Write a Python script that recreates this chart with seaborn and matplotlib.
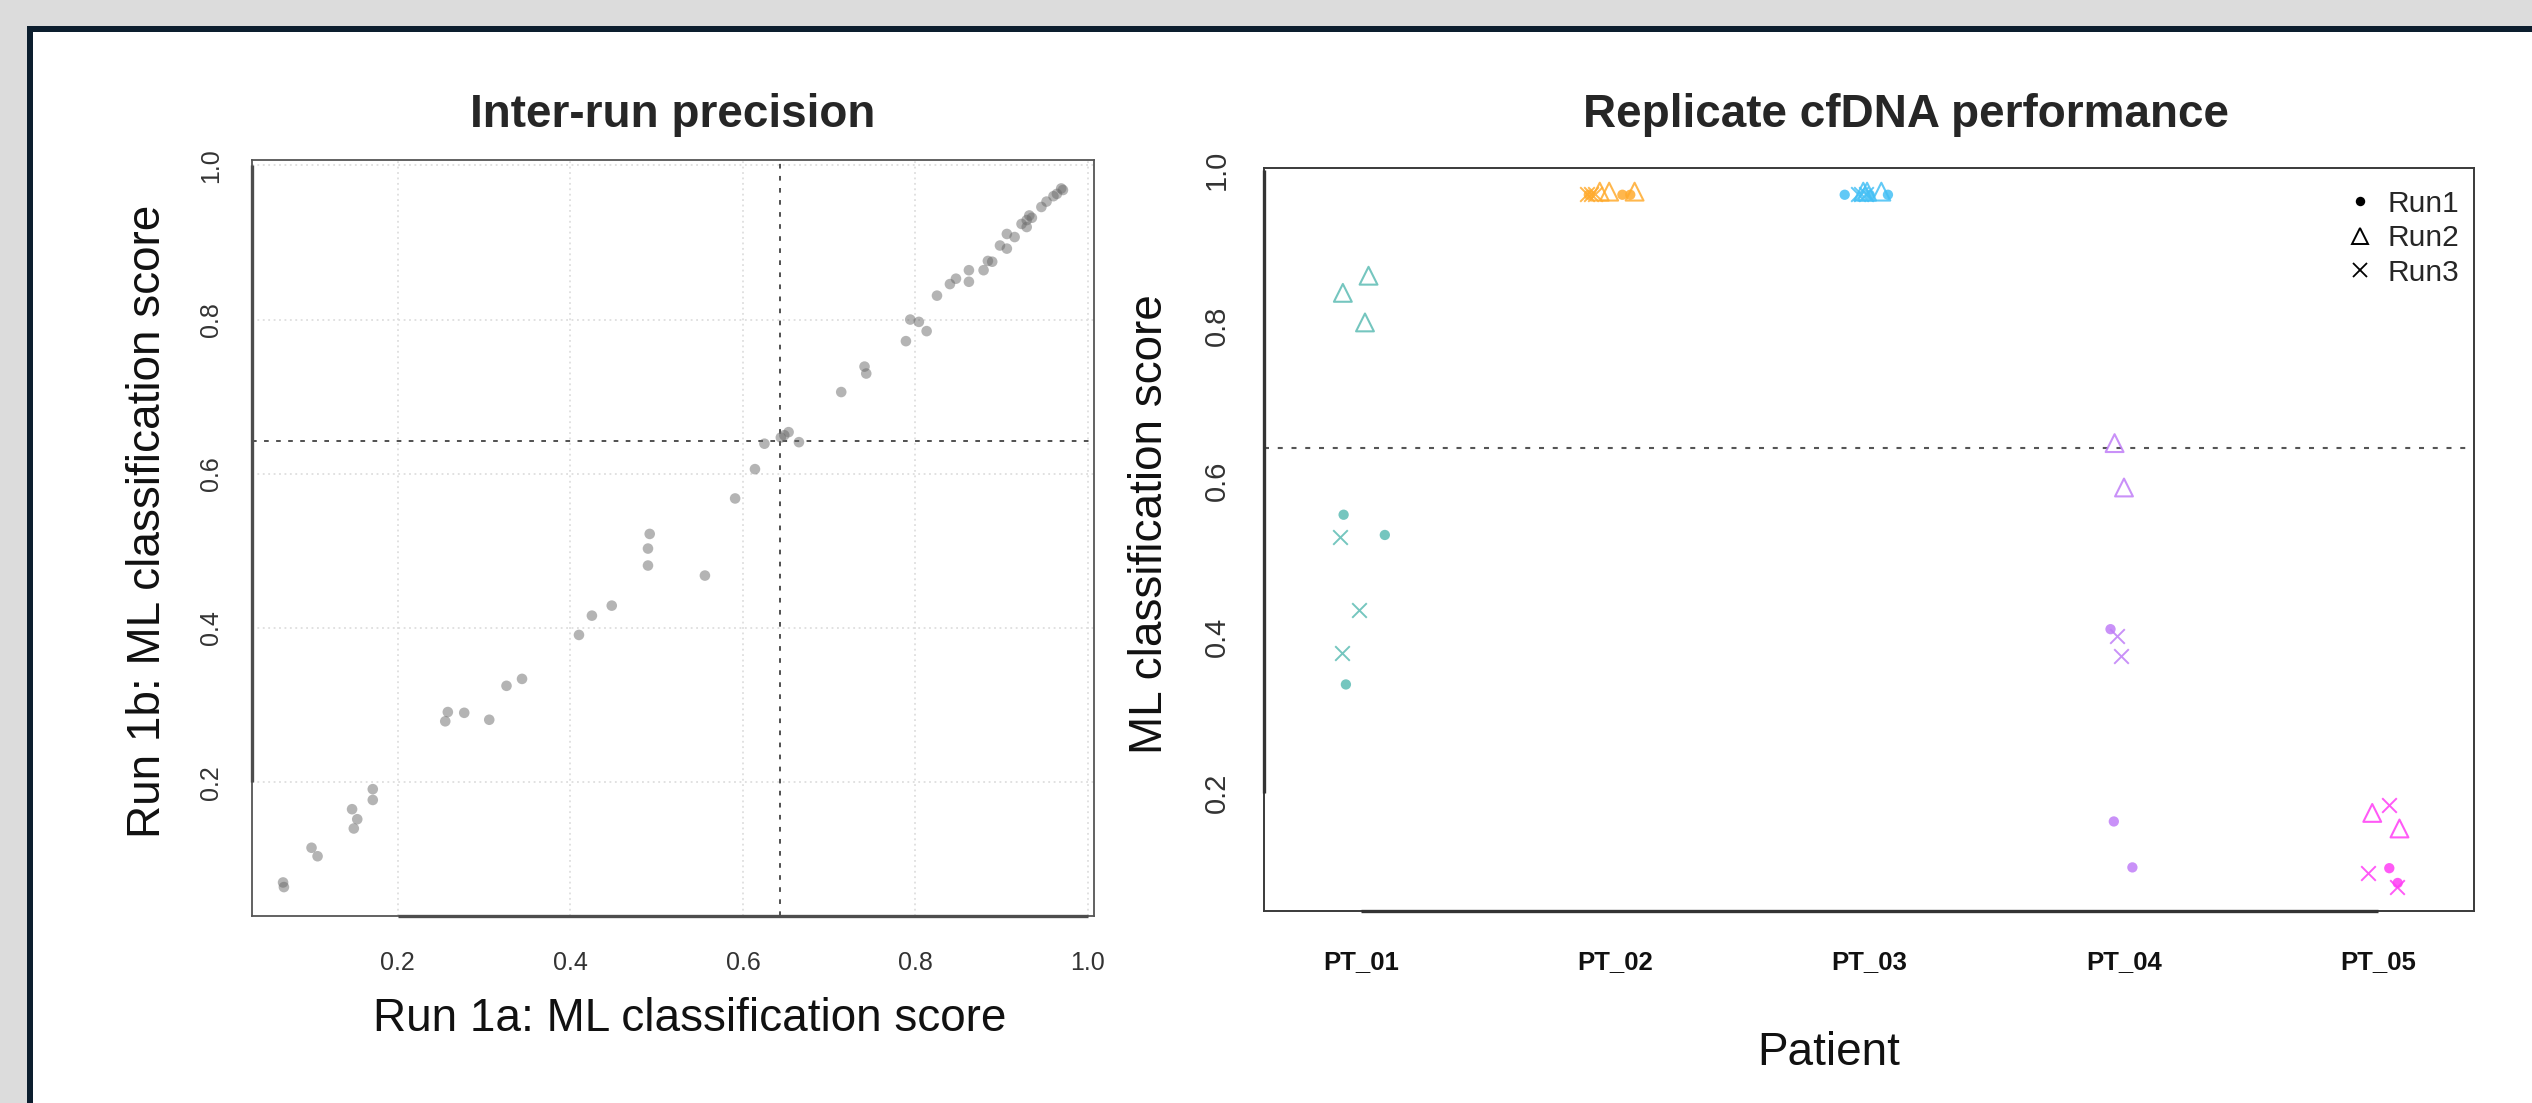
import numpy as np
import pandas as pd
import matplotlib
matplotlib.use("Agg")
import matplotlib.pyplot as plt
import seaborn as sns
from matplotlib.markers import MarkerStyle
from matplotlib.lines import Line2D
from matplotlib.patches import Rectangle

# ---------------- data ----------------
# Left panel: inter-run precision (Run 1a vs Run 1b)
run1a = [0.067, 0.068, 0.100, 0.107, 0.147, 0.149, 0.153, 0.171, 0.171,
         0.255, 0.258, 0.277, 0.306, 0.326, 0.344, 0.410, 0.425, 0.448,
         0.492, 0.490, 0.490, 0.556, 0.591, 0.614, 0.625, 0.644, 0.653,
         0.648, 0.665, 0.714, 0.741, 0.743, 0.789, 0.794, 0.804, 0.813,
         0.825, 0.840, 0.847, 0.862, 0.862, 0.879, 0.884, 0.889, 0.898,
         0.906, 0.906, 0.915, 0.923, 0.929, 0.935, 0.929, 0.932, 0.946,
         0.952, 0.964, 0.969, 0.971, 0.960]
run1b = [0.070, 0.064, 0.115, 0.104, 0.165, 0.140, 0.152, 0.191, 0.177,
         0.279, 0.291, 0.290, 0.281, 0.325, 0.334, 0.391, 0.416, 0.429,
         0.522, 0.503, 0.481, 0.468, 0.568, 0.606, 0.639, 0.647, 0.654,
         0.650, 0.641, 0.706, 0.739, 0.730, 0.772, 0.800, 0.797, 0.785,
         0.831, 0.846, 0.853, 0.849, 0.864, 0.864, 0.876, 0.875, 0.896,
         0.892, 0.911, 0.907, 0.924, 0.929, 0.932, 0.920, 0.935, 0.946,
         0.953, 0.963, 0.970, 0.968, 0.960]
threshold = 0.643
score_ticks = [0.2, 0.4, 0.6, 0.8, 1.0]

# Right panel: replicate cfDNA performance
patients = ["PT_01", "PT_02", "PT_03", "PT_04", "PT_05"]
patient_colors = ["#5dbcb4", "#ffab2e", "#45c0f5", "#c07ef7", "#ff3df5"]
runs = ["Run1", "Run2", "Run3"]

rep_patient = (["PT_01"] * 9 + ["PT_02"] * 9 + ["PT_03"] * 9 +
               ["PT_04"] * 7 + ["PT_05"] * 7)
rep_run = (["Run1"] * 3 + ["Run2"] * 3 + ["Run3"] * 3 +
           ["Run1"] * 3 + ["Run2"] * 3 + ["Run3"] * 3 +
           ["Run1"] * 3 + ["Run2"] * 3 + ["Run3"] * 3 +
           ["Run1"] * 3 + ["Run2"] * 2 + ["Run3"] * 2 +
           ["Run1"] * 2 + ["Run2"] * 2 + ["Run3"] * 3)
# jittered horizontal position (patient index + jitter)
rep_pos = [0.932, 1.094, 0.941, 0.929, 1.030, 1.016, 0.916, 0.992, 0.925,
           1.896, 2.028, 2.059, 1.939, 1.976, 2.076, 1.889, 1.905, 1.919,
           2.902, 3.000, 3.072, 2.975, 2.990, 3.046, 2.955, 2.965, 2.985,
           3.947, 3.960, 4.033, 3.963, 4.000, 3.974, 3.990,
           5.043, 5.076, 4.976, 5.083, 5.043, 4.959, 5.072]
rep_score = [0.557, 0.531, 0.339, 0.842, 0.864, 0.804, 0.528, 0.435, 0.380,
             0.968, 0.968, 0.968, 0.972, 0.972, 0.972, 0.969, 0.969, 0.969,
             0.968, 0.968, 0.968, 0.972, 0.972, 0.972, 0.969, 0.969, 0.969,
             0.410, 0.163, 0.104, 0.649, 0.592, 0.401, 0.376,
             0.103, 0.084, 0.174, 0.154, 0.184, 0.097, 0.079]

# ---------------- figure ----------------
W, H = 2532, 1103
sns.set_theme(style="white")
plt.rcParams["font.family"] = ["Liberation Sans", "DejaVu Sans"]

fig = plt.figure(figsize=(W / 100, H / 100), dpi=100, facecolor="#dcdcdc")

# framed white panel
fig.add_artist(Rectangle((27.3 / W, -0.05), 1.2, (H - 26) / H + 0.05,
                         transform=fig.transFigure, facecolor="#0c1e2e",
                         edgecolor="none", zorder=-20))
fig.add_artist(Rectangle((33.3 / W, -0.05), 1.2, (H - 32) / H + 0.05,
                         transform=fig.transFigure, facecolor="white",
                         edgecolor="none", zorder=-19))


def px_axes(l, t, r, b):
    return [l / W, 1 - b / H, (r - l) / W, (b - t) / H]


def r_axis_lines(ax, xr, yr, color):
    # R draws the axis line from first to last tick on top of the box
    ax.plot(xr, [0, 0], transform=ax.get_xaxis_transform(), color=color,
            lw=2.4, clip_on=False, zorder=6, solid_capstyle="butt")
    ax.plot([0, 0], yr, transform=ax.get_yaxis_transform(), color=color,
            lw=2.4, clip_on=False, zorder=6, solid_capstyle="butt")


# ---------- left panel ----------
ax1 = fig.add_axes(px_axes(252, 160.4, 1094, 916))
df_left = pd.DataFrame({"Run 1a": run1a, "Run 1b": run1b})
sns.scatterplot(data=df_left, x="Run 1a", y="Run 1b", ax=ax1, color="#6a6a6a",
                alpha=0.5, s=58, edgecolor="none", zorder=4, legend=False)
ax1.set_xlim(0.031, 1.007)
ax1.set_ylim(0.0265, 1.0064)
ax1.set_xticks(score_ticks)
ax1.set_yticks(score_ticks)
ax1.set_xticklabels([f"{v:.1f}" for v in score_ticks])
ax1.set_yticklabels([f"{v:.1f}" for v in score_ticks], rotation=90, va="center")
ax1.grid(True, linestyle=(0, (1, 2)), color="#dedede", linewidth=1.3, zorder=0)
ax1.set_axisbelow(True)
ax1.axhline(threshold, linestyle=(0, (2.4, 3.8)), color="#505050", lw=1.4, zorder=3)
ax1.axvline(threshold, linestyle=(0, (2.4, 3.8)), color="#505050", lw=1.4, zorder=3)
for sp in ax1.spines.values():
    sp.set_color("#555555")
    sp.set_linewidth(1.3)
r_axis_lines(ax1, [score_ticks[0], score_ticks[-1]], [score_ticks[0], score_ticks[-1]],
             "#4d4d4d")
ax1.tick_params(axis="both", direction="out", length=10, width=1.5,
                color="#4d4d4d", labelsize=18, labelcolor="#333333")
ax1.tick_params(axis="x", pad=15)
ax1.tick_params(axis="y", pad=11)
ax1.set_title("Inter-run precision", fontsize=33, fontweight="bold", pad=24.3)
ax1.set_xlabel("Run 1a: ML classification score", fontsize=33, color="#111111")
ax1.set_ylabel("Run 1b: ML classification score", fontsize=33, color="#111111")
ax1.xaxis.set_label_coords(0.520, (916 - 997.5) / 756)
ax1.yaxis.set_label_coords((170.4 - 252) / 842, 0.5225)

# ---------- right panel ----------
ax2 = fig.add_axes(px_axes(1264, 167.5, 2474, 911))
df_right = pd.DataFrame({"Patient": rep_patient, "Run": rep_run,
                         "Position": rep_pos, "Score": rep_score})
color_of = dict(zip(patients, patient_colors))
run_style = {
    "Run1": dict(marker="o", s=55, edgecolor="none", linewidth=0),
    "Run2": dict(marker=MarkerStyle("^", fillstyle="none"), s=165, linewidth=1.5),
    "Run3": dict(marker="x", s=110, linewidth=1.4),
}
for (pt, run), sub in df_right.groupby(["Patient", "Run"]):
    sns.scatterplot(data=sub, x="Position", y="Score", ax=ax2,
                    color=color_of[pt], alpha=0.85, legend=False, zorder=4,
                    **run_style[run])
ax2.axhline(threshold, linestyle=(0, (2.4, 4.2)), color="#555555", lw=1.5, zorder=2)
ax2.set_xlim(0.619, 5.376)
ax2.set_ylim(0.048, 1.003)
ax2.set_xticks(range(1, len(patients) + 1))
ax2.set_xticklabels(patients, fontweight="bold", fontsize=18.5, color="#111111")
ax2.set_yticks(score_ticks)
ax2.set_yticklabels([f"{v:.1f}" for v in score_ticks], rotation=90, va="center",
                    fontsize=21, color="#333333")
for sp in ax2.spines.values():
    sp.set_color("#3a3a3a")
    sp.set_linewidth(1.4)
r_axis_lines(ax2, [1, len(patients)], [score_ticks[0], score_ticks[-1]], "#333333")
ax2.tick_params(axis="both", direction="out", length=13, width=1.5, color="#333333")
ax2.tick_params(axis="x", pad=15)
ax2.tick_params(axis="y", pad=11)
ax2.set_title("Replicate cfDNA performance", fontsize=33, fontweight="bold",
              pad=29.4, x=(1906 - 1264) / 1210)
ax2.set_xlabel("Patient", fontsize=33, color="#111111")
ax2.set_ylabel("ML classification score", fontsize=33, color="#111111")
ax2.xaxis.set_label_coords((1829 - 1264) / 1210, (911 - 1030.5) / 743)
ax2.yaxis.set_label_coords((1171.7 - 1264) / 1210, 0.520)

handles = [
    Line2D([], [], linestyle="none", marker="o", color="black", markersize=6.8,
           markeredgewidth=0),
    Line2D([], [], linestyle="none", marker="^", color="black", markersize=12,
           markerfacecolor="none", markeredgewidth=1.4),
    Line2D([], [], linestyle="none", marker="x", color="black", markersize=10.5,
           markeredgewidth=1.3),
]
ax2.legend(handles, runs, loc="upper right",
           bbox_to_anchor=((2459 - 1264) / 1210, (911 - 190) / 743),
           frameon=False, fontsize=21.5, handlelength=1.0, handletextpad=0.4,
           labelspacing=0.22, borderpad=0, borderaxespad=0)

fig.savefig("out.png", dpi=100, facecolor=fig.get_facecolor())
